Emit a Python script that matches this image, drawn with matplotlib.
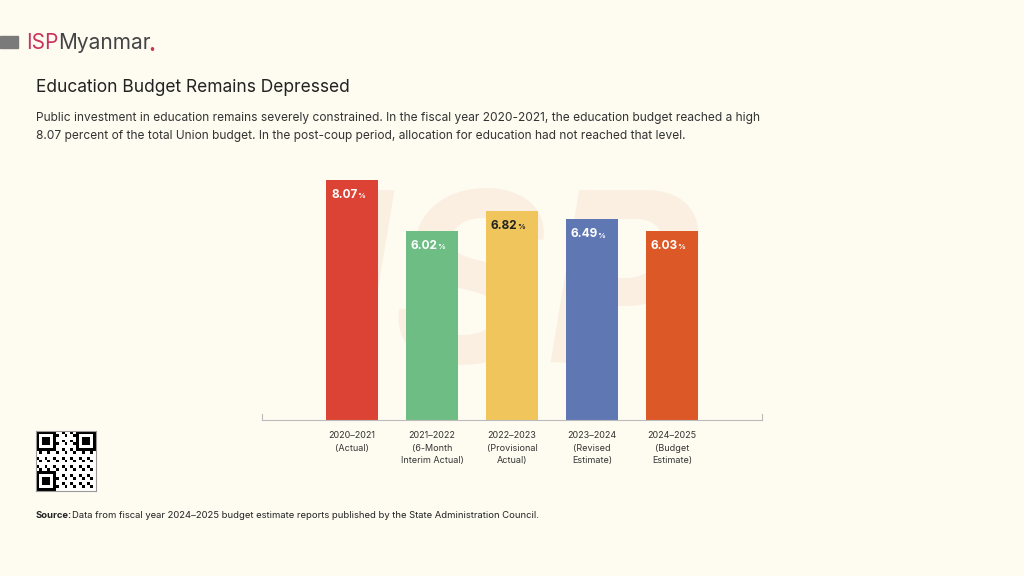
import numpy as np
from matplotlib import pyplot as plt
from matplotlib.patches import Rectangle

years = ["2020–2021\n(Actual)", "2021–2022\n(6-Month\nInterim Actual)", "2022–2023\n(Provisional\nActual)",
         "2023–2024\n(Revised\nEstimate)", "2024–2025\n(Budget\nEstimate)"]
shares = [8.07, 6.02, 6.82, 6.49, 6.03]
colors = ["#dd4334", "#6dbd85", "#efc55c", "#5f77b3", "#dc5827"]
label_colors = ["white", "white", "#222222", "white", "white"]

BG = "#fefcf1"
base = -1.58

fig = plt.figure(figsize=(10.24, 5.76), dpi=100, facecolor=BG)

# header
fig.add_artist(Rectangle((0, 1 - 48 / 576), 18 / 1024, 12 / 576, color="#7a7a7a", transform=fig.transFigure))
fig.text(26 / 1024, 1 - 43 / 576, "ISP", color="#c8325e", fontsize=15, va="center", family="Inter")
fig.text(58 / 1024, 1 - 43 / 576, "Myanmar", color="#444444", fontsize=15, va="center", family="Inter")
fig.text(148 / 1024, 1 - 45 / 576, ".", color="#d6304d", fontsize=15, va="center", family="Inter", weight="bold")
fig.text(36 / 1024, 1 - 88 / 576, "Education Budget Remains Depressed", fontsize=12.5, color="#222222",
         va="center", family="Inter")
fig.text(36 / 1024, 1 - 127 / 576,
         "Public investment in education remains severely constrained. In the fiscal year 2020-2021, the education budget reached a high\n"
         "8.07 percent of the total Union budget. In the post-coup period, allocation for education had not reached that level.",
         fontsize=8.6, color="#333333", va="center", family="Inter", linespacing=1.7)
fig.text(36 / 1024, 1 - 516 / 576, "Source:", fontsize=6.8, weight="bold", color="#222222", va="center", family="Inter")
fig.text(72 / 1024, 1 - 516 / 576,
         "Data from fiscal year 2024–2025 budget estimate reports published by the State Administration Council.",
         fontsize=6.8, color="#222222", va="center", family="Inter")

# watermark
wm = fig.add_axes([0, 0, 1, 1], zorder=-1)
wm.axis("off")
wm.text(512 / 1024, 1 - 300 / 576, "ISP", fontsize=170, weight="bold", color="#fbefe2", ha="center",
        va="center", family="Inter", style="italic")

# qr placeholder
qx = fig.add_axes([36 / 1024, 1 - 491 / 576, 60 / 1024, 60 / 576])
qx.set_facecolor("white")
pattern = np.array([[(i * 7 + j * 13 + i * j) % 3 == 0 for j in range(21)] for i in range(21)])
for cx, cy in [(0, 0), (14, 0), (0, 14)]:
    pattern[cy:cy + 7, cx:cx + 7] = False
    pattern[cy, cx:cx + 7] = pattern[cy + 6, cx:cx + 7] = True
    pattern[cy:cy + 7, cx] = pattern[cy:cy + 7, cx + 6] = True
    pattern[cy + 2:cy + 5, cx + 2:cx + 5] = True
qx.imshow(pattern, cmap="Greys", interpolation="nearest")
qx.set_xticks([])
qx.set_yticks([])
for s in qx.spines.values():
    s.set_color("#999999")

ax = fig.add_axes([262 / 1024, 156 / 576, 500 / 1024, 240 / 576])
ax.patch.set_alpha(0)
x = np.arange(len(shares))
vals = np.array(shares)
ax.bar(x, vals - base, bottom=base, width=0.65, color=colors)
for i, v in enumerate(shares):
    ax.annotate(f"{v:.2f}", (i, v - 0.6), xytext=(4, 0), textcoords="offset points", ha="right",
                va="center", fontsize=8.5, weight="bold", color=label_colors[i], family="Inter")
    ax.annotate("%", (i, v - 0.6), xytext=(4, -1), textcoords="offset points", ha="left",
                va="center", fontsize=5.5, weight="bold", color=label_colors[i], family="Inter")
ax.set_xlim(-1.125, 5.125)
ax.set_ylim(base, 8.07)
ax.set_yticks([])
ax.set_xticks(x)
ax.set_xticklabels(years, fontsize=6.5, color="#333333", family="Inter", linespacing=1.5)
ax.tick_params(axis="x", length=0, pad=8)
for s in ["top", "right", "left"]:
    ax.spines[s].set_visible(False)
ax.spines["bottom"].set_color("#bbbbbb")
ax.plot([-1.125, -1.125], [base, base + 0.25], color="#bbbbbb", lw=0.8, clip_on=False)
ax.plot([5.125, 5.125], [base, base + 0.25], color="#bbbbbb", lw=0.8, clip_on=False)

fig.savefig("out.png", dpi=100, facecolor=BG)
